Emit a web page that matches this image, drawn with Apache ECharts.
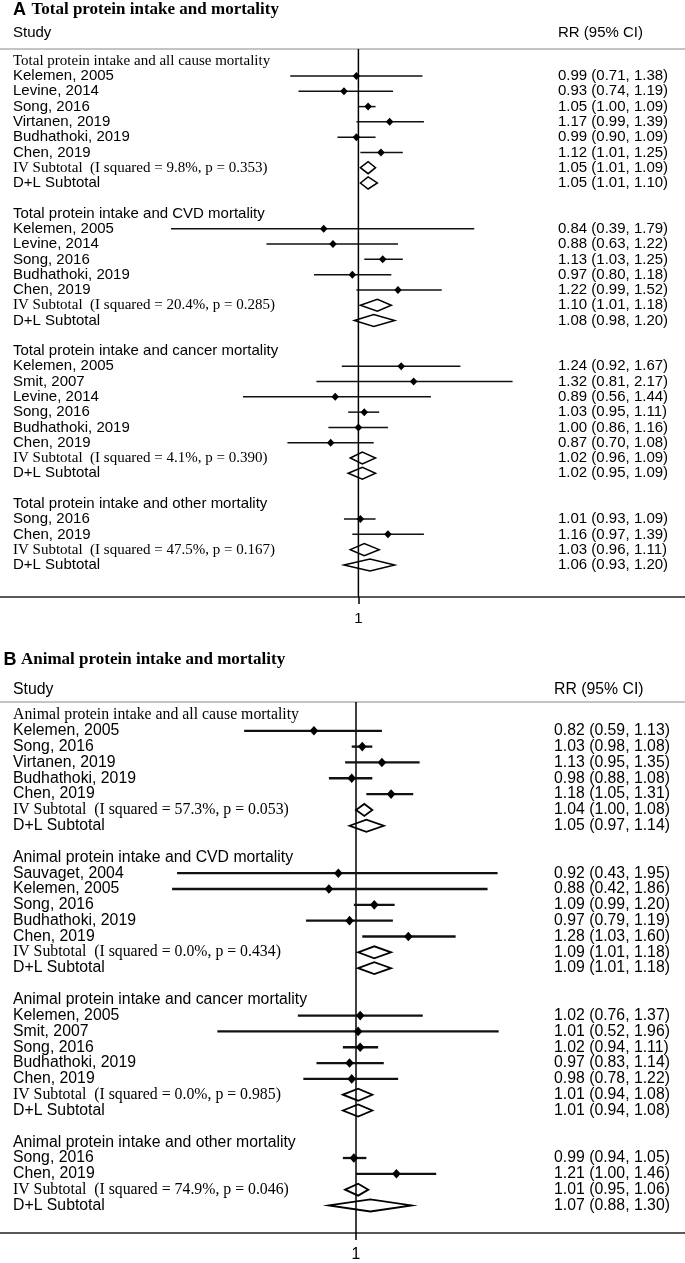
<!DOCTYPE html>
<html><head><meta charset="utf-8">
<script src="https://cdn.jsdelivr.net/npm/echarts@6/dist/echarts.min.js"></script>
<style>html,body{margin:0;padding:0;background:#fff}#c{width:685px;height:1263px}</style>
</head><body><div id="c"></div>
<script>
// ---------- Panel A: Total protein intake ----------
const titleA = 'Total protein intake and mortality';
const studiesA = [
  'Total protein intake and all cause mortality',
  'Kelemen, 2005','Levine, 2014','Song, 2016','Virtanen, 2019','Budhathoki, 2019','Chen, 2019',
  'IV Subtotal  (I squared = 9.8%, p = 0.353)','D+L Subtotal','',
  'Total protein intake and CVD mortality',
  'Kelemen, 2005','Levine, 2014','Song, 2016','Budhathoki, 2019','Chen, 2019',
  'IV Subtotal  (I squared = 20.4%, p = 0.285)','D+L Subtotal','',
  'Total protein intake and cancer mortality',
  'Kelemen, 2005','Smit, 2007','Levine, 2014','Song, 2016','Budhathoki, 2019','Chen, 2019',
  'IV Subtotal  (I squared = 4.1%, p = 0.390)','D+L Subtotal','',
  'Total protein intake and other mortality',
  'Song, 2016','Chen, 2019',
  'IV Subtotal  (I squared = 47.5%, p = 0.167)','D+L Subtotal'
];
const rrA   = [null, 0.99,0.93,1.05,1.17,0.99,1.12, 1.05,1.05, null,
               null, 0.84,0.88,1.13,0.97,1.22, 1.10,1.08, null,
               null, 1.24,1.32,0.89,1.03,1.00,0.87, 1.02,1.02, null,
               null, 1.01,1.16, 1.03,1.06];
const lowA  = [null, 0.71,0.74,1.00,0.99,0.90,1.01, 1.01,1.01, null,
               null, 0.39,0.63,1.03,0.80,0.99, 1.01,0.98, null,
               null, 0.92,0.81,0.56,0.95,0.86,0.70, 0.96,0.95, null,
               null, 0.93,0.97, 0.96,0.93];
const highA = [null, 1.38,1.19,1.09,1.39,1.09,1.25, 1.09,1.10, null,
               null, 1.79,1.22,1.25,1.18,1.52, 1.18,1.20, null,
               null, 1.67,2.17,1.44,1.11,1.16,1.08, 1.09,1.09, null,
               null, 1.09,1.39, 1.11,1.20];

// ---------- Panel B: Animal protein intake ----------
const titleB = 'Animal protein intake and mortality';
const studiesB = [
  'Animal protein intake and all cause mortality',
  'Kelemen, 2005','Song, 2016','Virtanen, 2019','Budhathoki, 2019','Chen, 2019',
  'IV Subtotal  (I squared = 57.3%, p = 0.053)','D+L Subtotal','',
  'Animal protein intake and CVD mortality',
  'Sauvaget, 2004','Kelemen, 2005','Song, 2016','Budhathoki, 2019','Chen, 2019',
  'IV Subtotal  (I squared = 0.0%, p = 0.434)','D+L Subtotal','',
  'Animal protein intake and cancer mortality',
  'Kelemen, 2005','Smit, 2007','Song, 2016','Budhathoki, 2019','Chen, 2019',
  'IV Subtotal  (I squared = 0.0%, p = 0.985)','D+L Subtotal','',
  'Animal protein intake and other mortality',
  'Song, 2016','Chen, 2019',
  'IV Subtotal  (I squared = 74.9%, p = 0.046)','D+L Subtotal'
];
const rrB   = [null, 0.82,1.03,1.13,0.98,1.18, 1.04,1.05, null,
               null, 0.92,0.88,1.09,0.97,1.28, 1.09,1.09, null,
               null, 1.02,1.01,1.02,0.97,0.98, 1.01,1.01, null,
               null, 0.99,1.21, 1.01,1.07];
const lowB  = [null, 0.59,0.98,0.95,0.88,1.05, 1.00,0.97, null,
               null, 0.43,0.42,0.99,0.79,1.03, 1.01,1.01, null,
               null, 0.76,0.52,0.94,0.83,0.78, 0.94,0.94, null,
               null, 0.94,1.00, 0.95,0.88];
const highB = [null, 1.13,1.08,1.35,1.08,1.31, 1.08,1.14, null,
               null, 1.95,1.86,1.20,1.19,1.60, 1.18,1.18, null,
               null, 1.37,1.96,1.11,1.14,1.22, 1.08,1.08, null,
               null, 1.05,1.46, 1.06,1.30];

const nullValue = [1];
const colLeft = 'Study', colRight = 'RR (95% CI)';

const SANS = '"Liberation Sans", Arial, sans-serif';
const SERIF = '"Liberation Serif", "Times New Roman", serif';

// layout per panel
const PA = {labels: studiesA, rr: rrA, low: lowA, high: highA, title: titleA, letter: 'A',
  top: 49, bottom: 597, yMin: -0.77, yMax: 35.1, nullPx: 358.4, k: 199,
  fs: 15, lw: 1.5, mw: 3.8, mh: 4, dh: 6, dlw: 1.5, tx: 13, rx: 558,
  titleY: 10, letterX: 13, titleX: 31.5, headY: 33};
const PB = {labels: studiesB, rr: rrB, low: lowB, high: highB, title: titleB, letter: 'B',
  top: 702, bottom: 1237, yMin: -0.82, yMax: 32.74, nullPx: 356, k: 212,
  fs: 15.8, lw: 2.3, mw: 4.3, mh: 4.8, dh: 6, dlw: 1.8, tx: 13, rx: 554,
  titleY: 660, letterX: 3.5, titleX: 21, headY: 690};
const W = 685;

function fmt(v){ return v.toFixed(2); }

function makeRender(P){
  return function(params, api){
    const i = params.dataIndex;
    const label = P.labels[i];
    const children = [];
    if (i === 0){
      // reference (null) line at RR = 1 across the whole plot
      const t = api.coord([nullValue[0], P.yMin]), b = api.coord([nullValue[0], P.yMax]);
      children.push({type:'line', shape:{x1: t[0], y1: t[1], x2: b[0], y2: b[1]}, style:{stroke:'#000', lineWidth:1.5}});
    }
    if (!label) return {type:'group', children};
    const y = api.coord([1, i])[1];
    const rr = P.rr[i], lo = P.low[i], hi = P.high[i];
    const isHeader = rr == null;
    const isIV = label.indexOf('IV Subtotal') === 0;
    const isDL = label.indexOf('D+L') === 0;
    const serif = isIV || (isHeader && i === 0);
    children.push({type:'text', silent:true, style:{text: label, x: P.tx, y: y,
      font: P.fs + 'px ' + (serif ? SERIF : SANS), fill:'#000', verticalAlign:'middle', align:'left'}});
    if (!isHeader){
      const pl = api.coord([lo, i]), ph = api.coord([hi, i]), pe = api.coord([rr, i]);
      if (isIV || isDL){
        children.push({type:'polygon', shape:{points:[[pl[0], y],[pe[0], y - P.dh],[ph[0], y],[pe[0], y + P.dh]]},
          style:{fill:'none', stroke:'#000', lineWidth:P.dlw}});
      } else {
        children.push({type:'line', shape:{x1: pl[0], y1: y, x2: ph[0], y2: y}, style:{stroke:'#111', lineWidth:P.lw}});
        children.push({type:'polygon', shape:{points:[[pe[0]-P.mw, y],[pe[0], y-P.mh],[pe[0]+P.mw, y],[pe[0], y+P.mh]]},
          style:{fill:'#000'}});
      }
      children.push({type:'text', silent:true, style:{text: fmt(rr) + ' (' + fmt(lo) + ', ' + fmt(hi) + ')',
        x: P.rx, y: y, font: P.fs + 'px ' + SANS, fill:'#000', verticalAlign:'middle', align:'left'}});
    }
    return {type:'group', children};
  };
}

const panels = [PA, PB];
const grids = [], xAxes = [], yAxes = [], series = [], graphics = [];
panels.forEach((P, g) => {
  const xmin = Math.exp(-P.nullPx / P.k), xmax = Math.exp((W - P.nullPx) / P.k);
  grids.push({left: 0, right: 0, top: P.top, height: P.bottom - P.top});
  xAxes.push({type:'log', logBase: Math.E, gridIndex: g, min: xmin, max: xmax, position:'bottom',
    axisLine:{show:true, onZero:false, lineStyle:{color:'#222', width:1.5}},
    axisTick:{show:true, customValues: nullValue, length: 7, lineStyle:{color:'#000', width:1.5}},
    axisLabel:{show:true, customValues: nullValue, margin: 14, fontSize: P.fs, fontFamily: SANS, color:'#000'},
    splitLine:{show:false}});
  xAxes.push({type:'log', logBase: Math.E, gridIndex: g, min: xmin, max: xmax, position:'top',
    axisLine:{show:true, onZero:false, lineStyle:{color:'#c4c4c4', width:2}},
    axisTick:{show:false}, axisLabel:{show:false}, splitLine:{show:false}});
  yAxes.push({type:'value', gridIndex: g, inverse: true, min: P.yMin, max: P.yMax, show: false});
  const data = P.labels.map((l, i) => [i, P.rr[i], P.low[i], P.high[i]]);
  series.push({type:'custom', xAxisIndex: g * 2, yAxisIndex: g, clip: false, silent: true,
    dimensions: ['row','rr','low','high'], encode: {y: 'row', x: ['rr','low','high']},
    renderItem: makeRender(P), data: data});
  graphics.push({type:'text', x: P.letterX, y: P.titleY, style:{text: P.letter, font: 'bold 18px ' + SANS, fill:'#000', verticalAlign:'middle'}});
  graphics.push({type:'text', x: P.titleX, y: P.titleY, style:{text: P.title, font: 'bold 17px ' + SERIF, fill:'#000', verticalAlign:'middle'}});
  graphics.push({type:'text', x: P.tx, y: P.headY, style:{text: colLeft, font: P.fs + 'px ' + SANS, fill:'#000', verticalAlign:'middle'}});
  graphics.push({type:'text', x: P.rx, y: P.headY, style:{text: colRight, font: P.fs + 'px ' + SANS, fill:'#000', verticalAlign:'middle'}});
});

const chart = echarts.init(document.getElementById('c'), null, {renderer:'canvas'});
chart.setOption({animation:false, backgroundColor:'#fff', grid: grids, xAxis: xAxes, yAxis: yAxes,
  series: series, graphic: graphics});
</script></body></html>
